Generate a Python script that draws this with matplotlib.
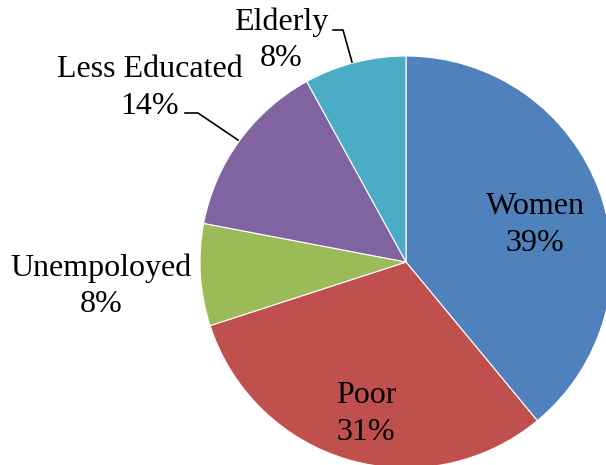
import matplotlib.pyplot as plt

# Slice data (clockwise from the top)
groups = ["Women", "Poor", "Unemployed", "Less Educated", "Elderly"]
shares = [39, 31, 8, 14, 8]
group_text = ["Women", "Poor", "Unempoloyed", "Less Educated", "Elderly"]
colors = ["#4F81BD", "#C0504D", "#9BBB59", "#8064A2", "#4BACC6"]

H = 465
# label centres in pixel coords (x, y from top)
label_pos = [(535, 225), (366, 414), (101, 286), (150, 88), (281, 40)]

plt.rcParams['font.family'] = ['Liberation Serif', 'DejaVu Serif']

fig = plt.figure(figsize=(6.06, 4.65), dpi=100)
ax = fig.add_axes([0, 0, 1, 1])

ax.pie(shares, colors=colors, startangle=90, counterclock=False,
       center=(406, H - 262), radius=206, frame=True,
       wedgeprops=dict(edgecolor='white', linewidth=0.8))
ax.set_xlim(0, 606)
ax.set_ylim(0, H)
ax.axis('off')

for name, val, (x, y) in zip(group_text, shares, label_pos):
    ax.text(x, H - y, f"{name}\n{val}%", ha='center', va='center',
            fontsize=23, linespacing=1.32, color='black')

# leader lines
ax.plot([333, 343, 352], [H - 30, H - 30, H - 62], color='black', lw=1.2)
ax.plot([185, 198, 238], [H - 113, H - 113, H - 140], color='black', lw=1.2)

fig.savefig("out.png", dpi=100)
